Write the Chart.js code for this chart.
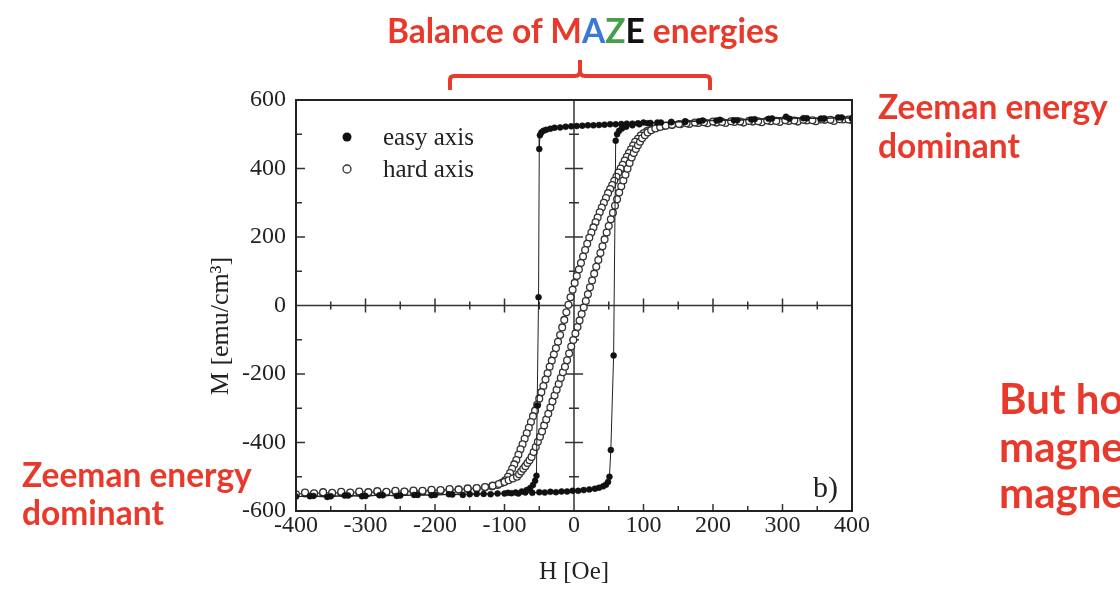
<!DOCTYPE html>
<html>
<head>
<meta charset="utf-8">
<script src="https://cdn.jsdelivr.net/npm/chart.js@4.4.1/dist/chart.umd.min.js"></script>
<style>
  html, body { margin: 0; padding: 0; background: #fff; }
  #wrap { position: relative; width: 1120px; height: 592px; overflow: hidden; }
  #loop { position: absolute; left: 0; top: 0; }
  .note { position: absolute; font-family: Lato, "Open Sans", sans-serif; font-weight: 700;
          color: #e8392b; white-space: nowrap; line-height: 1; font-size: 33.5px; }
  .big { font-size: 42px; }
  #panel { position: absolute; left: 813px; top: 472px; font-family: "Liberation Serif", serif;
           font-size: 30px; line-height: 1; color: #222; }
  svg { position: absolute; left: 0; top: 0; }
</style>
</head>
<body>
<div id="wrap">
  <canvas id="loop" width="1120" height="592"></canvas>

  <div class="note" style="left:387px; top:14px;">Balance of M<span style="color:#3b78d8">A</span><span style="color:#45a049">Z</span><span style="color:#111">E</span> energies</div>
  <svg width="1120" height="100">
    <path d="M450,90 V80 Q450,76 454,76 H575 Q580,76 580,71 V60 M580,71 Q580,76 585,76 H706 Q710,76 710,80 V90"
          fill="none" stroke="#e8392b" stroke-width="4"/>
  </svg>

  <div class="note" style="left:878px; top:90px;">Zeeman energy</div>
  <div class="note" style="left:878px; top:129px;">dominant</div>

  <div class="note" style="left:22px; top:458px;">Zeeman energy</div>
  <div class="note" style="left:22px; top:496px;">dominant</div>

  <div class="note big" style="left:999px; top:377px;">But how do we</div>
  <div class="note big" style="left:999px; top:425px;">magnetize a</div>
  <div class="note big" style="left:999px; top:471px;">magnet?</div>

  <div id="panel">b)</div>
</div>

<script>
// labelled ticks
const hLabels = [-400, -300, -200, -100, 0, 100, 200, 300, 400];
const mLabels = [-600, -400, -200, 0, 200, 400, 600];

// easy axis: down from +400 Oe, then back up from -400 Oe
const easyH = [400, 380, 355, 330, 305, 280, 255, 230, 205, 180,
  160, 140, 125, 110, 100, 92, 84, 76, 68, 60,
  52, 44, 36, 28, 20, 12, 4, -4, -12, -20,
  -28, -34, -40, -44, -47, -49, -50, -51, -53, -54,
  -56, -59, -63, -68, -75, -84, -95, -110, -130, -150,
  -175, -200, -225, -250, -275, -300, -325, -350, -375, -400,
  -380, -355, -330, -305, -280, -255, -230, -205, -180,
  -160, -140, -120, -100, -90, -80, -70, -60, -50, -42,
  -34, -26, -18, -10, -2, 6, 14, 22, 30, 36,
  42, 46, 49, 51, 53, 57, 60, 62, 65, 69,
  75, 84, 94, 106, 120, 140, 160, 185, 210, 235,
  260, 285, 310, 335, 360, 385, 400];
const easyM = [546, 549, 545, 547, 551, 545, 543, 541, 540, 538,
  536, 535, 534, 533, 534, 532, 531, 531, 530, 529,
  529, 528, 527, 526, 526, 525, 524, 523, 522, 520,
  519, 516, 513, 510, 505, 497, 457, 24, -292, -497,
  -512, -524, -533, -539, -543, -546, -547, -549, -550, -551,
  -552, -553, -553, -555, -554, -556, -555, -557, -556, -558,
  -557, -559, -555, -557, -554, -556, -553, -554, -551,
  -553, -550, -551, -549, -548, -549, -546, -547, -545, -546,
  -544, -545, -543, -543, -541, -541, -539, -537, -535, -532,
  -528, -523, -515, -500, -422, -146, 481, 500, 510, 517,
  522, 526, 529, 532, 534, 536, 538, 540, 542, 541,
  544, 546, 545, 547, 546, 549, 547];

// hard axis: same sweep order
const hardH = [400, 387, 374, 361, 348, 335, 322, 309, 296, 283,
  270, 257, 244, 231, 218, 205, 192, 179, 166, 153,
  141, 130, 120, 112, 105, 100, 96, 92, 88, 85,
  82, 79, 76, 73, 70, 67, 64, 61, 58, 55,
  52, 49, 46, 43, 40, 37, 34, 31, 28, 25,
  22, 19, 16, 13, 10, 7, 4, 1, -2, -5,
  -8, -11, -14, -17, -20, -23, -26, -29, -32, -35,
  -38, -41, -44, -47, -50, -53, -56, -59, -62, -65,
  -68, -71, -74, -77, -80, -83, -86, -89, -92, -95,
  -99, -104, -110, -118, -128, -140, -153, -166, -179, -192,
  -205, -218, -231, -244, -257, -270, -283, -296, -309, -322,
  -335, -348, -361, -374, -387, -400,
  -387, -374, -361, -348, -335, -322, -309, -296, -283,
  -270, -257, -244, -231, -218, -205, -192, -179, -166, -153,
  -140, -128, -117, -108, -100, -94, -88, -82, -79, -76,
  -73, -70, -67, -64, -61, -58, -55, -52, -49, -46,
  -43, -40, -37, -34, -31, -28, -25, -22, -19, -16,
  -13, -10, -7, -4, -1, 2, 5, 8, 11, 14,
  17, 20, 23, 26, 29, 32, 35, 38, 41, 44,
  47, 50, 53, 56, 59, 62, 65, 68, 71, 74,
  77, 80, 83, 86, 89, 92, 95, 98, 102, 106,
  111, 117, 124, 132, 141, 151, 162, 174, 187, 200,
  213, 226, 239, 252, 265, 278, 291, 304, 317, 330,
  343, 356, 369, 382, 395];
const hardM = [541, 543, 539, 542, 538, 540, 537, 539, 536, 538,
  535, 537, 534, 536, 533, 534, 532, 533, 530, 529,
  527, 524, 520, 515, 509, 503, 496, 487, 478, 467,
  456, 445, 434, 423, 411, 400, 388, 376, 364, 352,
  340, 328, 314, 300, 286, 272, 257, 243, 228, 213,
  198, 180, 162, 143, 124, 105, 86, 66, 46, 24,
  2, -20, -42, -64, -86, -106, -125, -143, -161, -179,
  -198, -216, -235, -253, -272, -290, -307, -323, -340, -357,
  -373, -389, -405, -420, -436, -451, -464, -477, -489, -500,
  -510, -518, -524, -528, -531, -534, -536, -538, -539, -541,
  -540, -543, -542, -544, -543, -546, -545, -547, -546, -548,
  -547, -549, -548, -550, -549, -551,
  -546, -548, -545, -547, -544, -546, -543, -545, -542,
  -544, -541, -543, -540, -541, -538, -539, -536, -537, -534,
  -533, -530, -526, -521, -515, -510, -505, -500, -493, -485,
  -477, -469, -460, -452, -442, -428, -413, -398, -383, -368,
  -350, -333, -316, -298, -280, -263, -246, -229, -212, -195,
  -179, -160, -140, -120, -101, -82, -63, -44, -25, -6,
  13, 33, 53, 73, 93, 113, 133, 153, 173, 193,
  213, 232, 252, 271, 291, 310, 330, 348, 365, 382,
  399, 416, 432, 445, 457, 468, 478, 488, 497, 505,
  512, 517, 521, 525, 528, 530, 532, 534, 535, 537,
  536, 538, 537, 539, 538, 540, 539, 541, 540, 542,
  541, 543, 542, 544, 543];

const yTitle = 'M [emu/cm³]';

const toPts = (hs, ms) => hs.map((h, i) => ({ x: h, y: ms[i] }));

// frame, inward ticks and the two zero axes
const frameAxes = {
  id: 'frameAxes',
  beforeDatasetsDraw(chart) {
    const { ctx, chartArea: a, scales: { x, y } } = chart;
    const x0 = x.getPixelForValue(0);
    const y0 = y.getPixelForValue(0);
    ctx.save();
    ctx.strokeStyle = '#333';
    ctx.lineWidth = 1.5;
    ctx.beginPath();
    ctx.moveTo(a.left, y0); ctx.lineTo(a.right, y0);
    ctx.moveTo(x0, a.top); ctx.lineTo(x0, a.bottom);
    x.ticks.forEach(t => {
      const px = x.getPixelForValue(t.value);
      const big = hLabels.includes(t.value);
      ctx.moveTo(px, a.bottom); ctx.lineTo(px, a.bottom - (big ? 7 : 5));
      ctx.moveTo(px, y0 - (big ? 7 : 4)); ctx.lineTo(px, y0 + (big ? 7 : 4));
    });
    y.ticks.forEach(t => {
      const py = y.getPixelForValue(t.value);
      const big = mLabels.includes(t.value);
      ctx.moveTo(a.left, py); ctx.lineTo(a.left + (big ? 9 : 6), py);
      ctx.moveTo(x0 - (big ? 9 : 5), py); ctx.lineTo(x0 + (big ? 9 : 5), py);
    });
    ctx.stroke();
    ctx.restore();
  },
  afterDatasetsDraw(chart) {
    const { ctx, chartArea: a } = chart;
    ctx.save();
    ctx.strokeStyle = '#222';
    ctx.lineWidth = 2;
    ctx.strokeRect(a.left, a.top, a.right - a.left, a.bottom - a.top);
    ctx.restore();
  }
};

// legend inside the plot (top left) + the rotated M title, a bit below centre like the original
const innerLegend = {
  id: 'innerLegend',
  afterDraw(chart) {
    const { ctx, chartArea: a } = chart;
    ctx.save();
    ctx.font = '25px "Liberation Serif", serif';
    ctx.fillStyle = '#222';
    ctx.textBaseline = 'alphabetic';
    chart.data.datasets.forEach((ds, i) => {
      const cx = a.left + 51;
      const cy = a.top + 37 + i * 32;
      ctx.beginPath();
      ctx.arc(cx, cy, i === 0 ? 4.5 : 4, 0, Math.PI * 2);
      if (i === 0) { ctx.fillStyle = '#111'; ctx.fill(); }
      else { ctx.fillStyle = '#fff'; ctx.fill(); ctx.lineWidth = 1.3; ctx.strokeStyle = '#333'; ctx.stroke(); }
      ctx.fillStyle = '#222';
      ctx.fillText(ds.label, a.left + 87, cy + 8);
    });

    ctx.translate(a.left - 75, a.top + 226);
    ctx.rotate(-Math.PI / 2);
    ctx.font = '26px "Liberation Serif", serif';
    ctx.textAlign = 'center';
    ctx.textBaseline = 'middle';
    ctx.fillText(yTitle, 0, 0);
    ctx.restore();
  }
};

const serif = { family: '"Liberation Serif", "Times New Roman", serif', size: 24 };

new Chart(document.getElementById('loop'), {
  type: 'scatter',
  data: {
    datasets: [
      {
        label: 'easy axis',
        data: toPts(easyH, easyM),
        showLine: true,
        borderColor: '#222',
        borderWidth: 1,
        pointRadius: 3,
        pointBackgroundColor: '#111',
        pointBorderColor: '#111',
        pointBorderWidth: 0.5
      },
      {
        label: 'hard axis',
        data: toPts(hardH, hardM),
        showLine: true,
        borderColor: '#666',
        borderWidth: 1,
        pointRadius: 3.4,
        pointBackgroundColor: '#fff',
        pointBorderColor: '#333',
        pointBorderWidth: 1.3
      }
    ]
  },
  options: {
    responsive: false,
    animation: false,
    events: [],
    layout: { padding: { left: 200, top: 100, right: 268, bottom: 4 } },
    plugins: { legend: { display: false }, tooltip: { enabled: false } },
    scales: {
      x: {
        type: 'linear',
        min: -400,
        max: 400,
        afterFit(s) { s.height = 77; },
        grid: { display: false, drawTicks: false },
        border: { display: false },
        ticks: {
          stepSize: 50,
          autoSkip: false,
          maxRotation: 0,
          padding: 0,
          color: '#222',
          font: serif,
          callback: v => hLabels.includes(v) ? String(v) : ''
        },
        title: {
          display: true,
          text: 'H [Oe]',
          color: '#222',
          font: { family: serif.family, size: 25 },
          padding: { top: 0, bottom: 1 }
        }
      },
      y: {
        min: -600,
        max: 600,
        afterFit(s) { s.width = 96; },
        grid: { display: false, drawTicks: false },
        border: { display: false },
        ticks: {
          stepSize: 100,
          autoSkip: false,
          padding: 10,
          color: '#222',
          font: serif,
          callback: v => mLabels.includes(v) ? String(v) : ''
        }
      }
    }
  },
  plugins: [frameAxes, innerLegend]
});
</script>
</body>
</html>
